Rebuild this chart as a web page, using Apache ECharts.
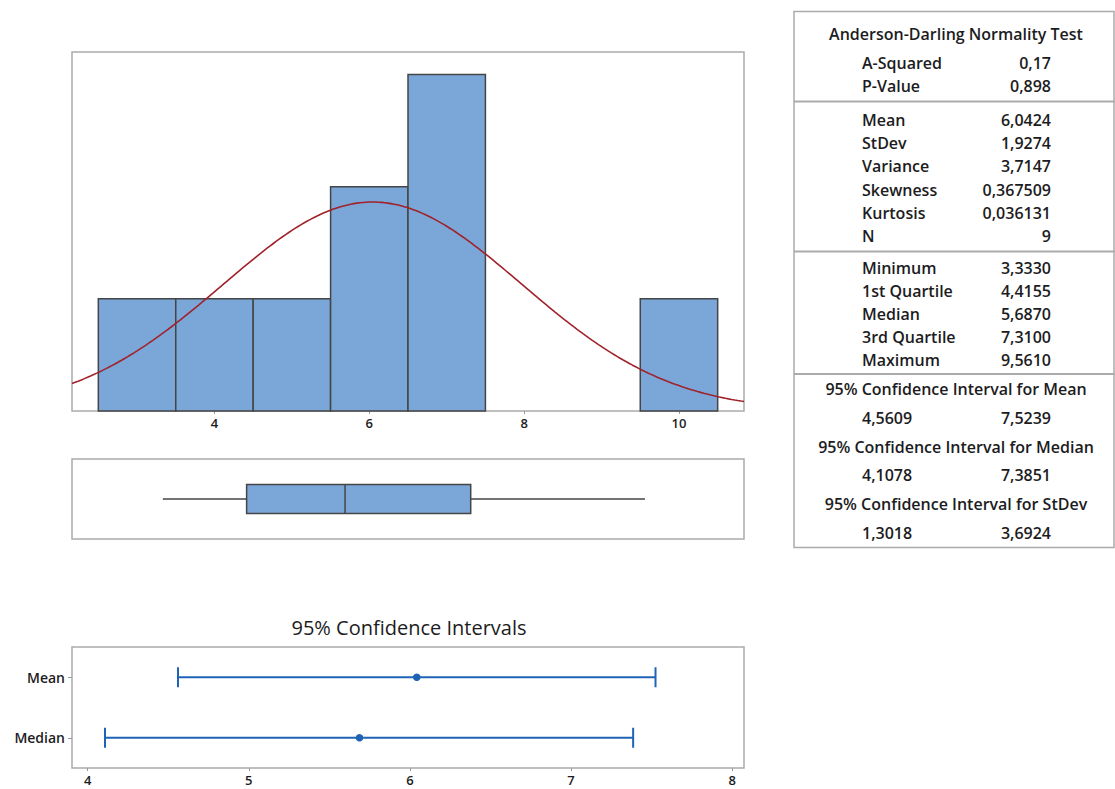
<!DOCTYPE html>
<html>
<head>
<meta charset="utf-8">
<script src="https://cdn.jsdelivr.net/npm/echarts@6/dist/echarts.min.js"></script>
<style>
  html, body { margin: 0; padding: 0; background: #ffffff; }
  #chart { width: 1115px; height: 789px; }
</style>
</head>
<body>
<div id="chart"></div>
<script>
// ---- Summary report values (printed with comma decimals) ----
const adLabels = ['A-Squared', 'P-Value'];
const adValues = ['0,17', '0,898'];

const descLabels = ['Mean', 'StDev', 'Variance', 'Skewness', 'Kurtosis', 'N'];
const descValues = ['6,0424', '1,9274', '3,7147', '0,367509', '0,036131', '9'];

const quartLabels = ['Minimum', '1st Quartile', 'Median', '3rd Quartile', 'Maximum'];
const quartValues = ['3,3330', '4,4155', '5,6870', '7,3100', '9,5610'];

const ciTitles = [
  '95% Confidence Interval for Mean',
  '95% Confidence Interval for Median',
  '95% Confidence Interval for StDev'
];
const ciLower = ['4,5609', '4,1078', '1,3018'];
const ciUpper = ['7,5239', '7,3851', '3,6924'];

// ---- Histogram bins (width 1, centred on the integers) ----
const binCenters = [3, 4, 5, 6, 7, 8, 9, 10];
const binCounts  = [1, 1, 1, 2, 3, 0, 0, 1];

// ---- Axis ticks ----
const histTicks = [4, 6, 8, 10];
const ciTicks = [4, 5, 6, 7, 8];
const ciCategories = ['Mean', 'Median'];

// ---------------------------------------------------------------
const FONT = 'Open Sans';
const TEXT = '#1c1c22';
const FRAME = '#ababab';
const BAR_FILL = '#7ba6d8';
const BAR_EDGE = '#454545';
const CURVE = '#a0222a';
const CI_BLUE = '#1f63b4';

const num = s => parseFloat(s.replace(',', '.'));

const mean = num(descValues[0]);
const stdev = num(descValues[1]);
const n = num(descValues[5]);
const fiveNum = quartValues.map(num);
const binWidth = binCenters[1] - binCenters[0];

const histMin = 2.16, histMax = 10.84;

// fitted normal density, scaled to counts
const curve = [];
for (let x = histMin; x <= histMax + 1e-9; x += 0.04) {
  const z = (x - mean) / stdev;
  curve.push([x, n * binWidth * Math.exp(-0.5 * z * z) / (stdev * Math.sqrt(2 * Math.PI))]);
}

const histData = binCenters.map((c, i) => [c, binCounts[i]]);
const ciData = [
  [0, num(ciLower[0]), mean, num(ciUpper[0])],
  [1, num(ciLower[1]), fiveNum[2], num(ciUpper[1])]
];

// ---- Right-hand statistics panel ----
const graphics = [];
const TX_LEFT = 862, TX_RIGHT = 1051, TX_MID = 956;
function addText(x, y, text, align, size, weight) {
  graphics.push({
    type: 'text', x: x, y: y, silent: true,
    style: { text: text, fill: TEXT, font: (weight || 600) + ' ' + (size || 16) + 'px "' + FONT + '"', textAlign: align, textVerticalAlign: 'middle' }
  });
}
function addRule(y) {
  graphics.push({ type: 'line', silent: true, shape: { x1: 794, y1: y, x2: 1115, y2: y }, style: { stroke: FRAME, lineWidth: 2 } });
}
graphics.push({ type: 'rect', silent: true, shape: { x: 794, y: 11.5, width: 320, height: 536 }, style: { fill: 'none', stroke: FRAME, lineWidth: 1.5 } });

addText(TX_MID, 34, 'Anderson-Darling Normality Test', 'center');
adLabels.forEach((l, i) => { addText(TX_LEFT, 63 + i * 23, l, 'left'); addText(TX_RIGHT, 63 + i * 23, adValues[i], 'right'); });
addRule(101.5);
descLabels.forEach((l, i) => { addText(TX_LEFT, 120 + i * 23.2, l, 'left'); addText(TX_RIGHT, 120 + i * 23.2, descValues[i], 'right'); });
addRule(251.5);
quartLabels.forEach((l, i) => { addText(TX_LEFT, 268 + i * 23, l, 'left'); addText(TX_RIGHT, 268 + i * 23, quartValues[i], 'right'); });
addRule(374);
ciTitles.forEach((t, i) => {
  const y = 389 + i * 57.5;
  addText(TX_MID, y, t, 'center');
  addText(TX_LEFT, y + 28.5, ciLower[i], 'left');
  addText(TX_RIGHT, y + 28.5, ciUpper[i], 'right');
});

// title above the interval plot
addText(409, 627, '95% Confidence Intervals', 'center', 20, 400);

const chart = echarts.init(document.getElementById('chart'), null, { renderer: 'svg' });

const frame = { show: true, borderColor: FRAME, borderWidth: 1.5, backgroundColor: 'transparent' };
const tickLabel = { color: TEXT, fontFamily: FONT, fontSize: 13, fontWeight: 600 };

chart.setOption({
  animation: false,
  graphic: graphics,
  grid: [
    Object.assign({ left: 72, top: 52, width: 672, height: 359 }, frame),
    Object.assign({ left: 72, top: 459, width: 672, height: 80 }, frame),
    Object.assign({ left: 72, top: 647, width: 672, height: 121 }, frame)
  ],
  xAxis: [
    {
      gridIndex: 0, type: 'value', min: histMin, max: histMax,
      axisLine: { show: false }, splitLine: { show: false },
      axisTick: { show: true, length: 3, customValues: histTicks, lineStyle: { color: '#9a9a9a' } },
      axisLabel: Object.assign({ customValues: histTicks, margin: 5 }, tickLabel)
    },
    { gridIndex: 1, type: 'value', min: histMin, max: histMax, show: false },
    {
      gridIndex: 2, type: 'value', min: 3.903, max: 8.073,
      axisLine: { show: false }, splitLine: { show: false },
      axisTick: { show: true, length: 3, customValues: ciTicks, lineStyle: { color: '#9a9a9a' } },
      axisLabel: Object.assign({ customValues: ciTicks, margin: 5 }, tickLabel)
    }
  ],
  yAxis: [
    { gridIndex: 0, type: 'value', min: 0, max: 3.2, show: false },
    { gridIndex: 1, type: 'value', min: 0, max: 1, show: false },
    {
      gridIndex: 2, type: 'category', data: ciCategories, inverse: true,
      axisLine: { show: false }, splitLine: { show: false },
      axisTick: { show: true, length: 4, alignWithLabel: true, lineStyle: { color: '#9a9a9a' } },
      axisLabel: Object.assign({ margin: 7 }, tickLabel, { fontSize: 14 })
    }
  ],
  series: [
    {
      type: 'custom', xAxisIndex: 0, yAxisIndex: 0, data: histData, z: 2,
      renderItem: function (params, api) {
        const c = api.value(0), k = api.value(1);
        if (!k) return null;
        const p0 = api.coord([c - binWidth / 2, k]);
        const p1 = api.coord([c + binWidth / 2, 0]);
        return {
          type: 'rect',
          shape: { x: p0[0], y: p0[1], width: p1[0] - p0[0], height: p1[1] - p0[1] },
          style: { fill: BAR_FILL, stroke: BAR_EDGE, lineWidth: 1.5 }
        };
      }
    },
    {
      type: 'line', xAxisIndex: 0, yAxisIndex: 0, data: curve, z: 3,
      showSymbol: false, symbol: 'none', smooth: false,
      lineStyle: { color: CURVE, width: 1.6 }
    },
    {
      type: 'custom', xAxisIndex: 1, yAxisIndex: 1, data: [fiveNum], z: 2,
      renderItem: function (params, api) {
        const lo = api.value(0), q1 = api.value(1), md = api.value(2), q3 = api.value(3), hi = api.value(4);
        const top = api.coord([q1, 0.68])[1];
        const bot = api.coord([q1, 0.32])[1];
        const mid = api.coord([q1, 0.5])[1];
        const x = v => api.coord([v, 0.5])[0];
        const st = { stroke: BAR_EDGE, lineWidth: 1.5 };
        return {
          type: 'group',
          children: [
            { type: 'line', shape: { x1: x(lo), y1: mid, x2: x(q1), y2: mid }, style: st },
            { type: 'line', shape: { x1: x(q3), y1: mid, x2: x(hi), y2: mid }, style: st },
            { type: 'rect', shape: { x: x(q1), y: top, width: x(q3) - x(q1), height: bot - top }, style: { fill: BAR_FILL, stroke: BAR_EDGE, lineWidth: 1.5 } },
            { type: 'line', shape: { x1: x(md), y1: top, x2: x(md), y2: bot }, style: st }
          ]
        };
      }
    },
    {
      type: 'custom', xAxisIndex: 2, yAxisIndex: 2, data: ciData, z: 2,
      renderItem: function (params, api) {
        const cat = api.value(0);
        const a = api.coord([api.value(1), cat]);
        const c = api.coord([api.value(2), cat]);
        const b = api.coord([api.value(3), cat]);
        const st = { stroke: CI_BLUE, lineWidth: 2 };
        return {
          type: 'group',
          children: [
            { type: 'line', shape: { x1: a[0], y1: a[1], x2: b[0], y2: b[1] }, style: st },
            { type: 'line', shape: { x1: a[0], y1: a[1] - 10, x2: a[0], y2: a[1] + 10 }, style: st },
            { type: 'line', shape: { x1: b[0], y1: b[1] - 10, x2: b[0], y2: b[1] + 10 }, style: st },
            { type: 'circle', shape: { cx: c[0], cy: c[1], r: 3.8 }, style: { fill: CI_BLUE } }
          ]
        };
      }
    }
  ]
});
</script>
</body>
</html>
